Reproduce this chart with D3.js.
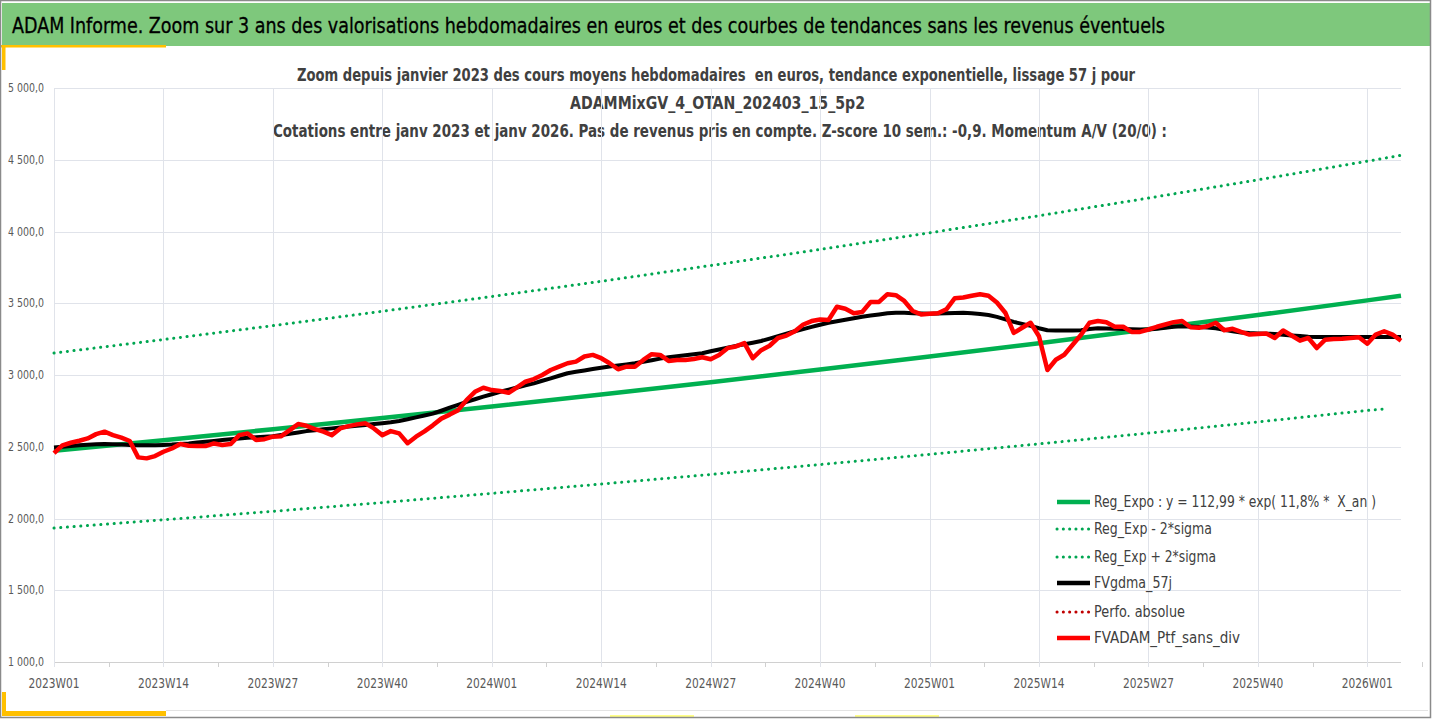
<!doctype html>
<html>
<head>
<meta charset="utf-8">
<style>
body{ margin:0; background:#ffffff; }
text{ white-space:pre; }
.ttl{ font-family:"Liberation Sans Narrow","DejaVu Sans Condensed","Open Sans",sans-serif; }
.sub{ font-family:"Liberation Sans Narrow","DejaVu Sans Condensed","Open Sans",sans-serif; font-weight:bold; fill:#404040; font-size:17px; }
.tick{ font-family:"Liberation Sans Narrow","DejaVu Sans Condensed","Open Sans",sans-serif; fill:#595959; }
.leg{ font-family:"Liberation Sans Narrow","DejaVu Sans Condensed","Open Sans",sans-serif; fill:#404040; font-size:15.5px; }
</style>
<script src="https://d3js.org/d3.v7.min.js"></script>
</head>
<body>
<svg width="1432" height="719"></svg>
<script>
// weekly categories 2023W01 .. 2026W05
var weeks = [];
[2023, 2024, 2025].forEach(function(y){
  for (var w = 1; w <= 52; w++) weeks.push(y + "W" + (w < 10 ? "0" + w : w));
});
for (var w = 1; w <= 5; w++) weeks.push("2026W0" + w);

var tickLabels = ["2023W01","2023W14","2023W27","2023W40","2024W01","2024W14","2024W27",
                  "2024W40","2025W01","2025W14","2025W27","2025W40","2026W01"];
var yTicks = [1000,1500,2000,2500,3000,3500,4000,4500,5000];

// trend lines, read at the gridlines
var trendWeeks = tickLabels.concat(["2026W05"]);
var regExpo  = [2472,2546,2622,2700,2781,2864,2950,3038,3129,3222,3319,3418,3520,3552];
var regPlus  = [3153,3247,3344,3444,3547,3653,3763,3875,3991,4110,4233,4360,4490,4531];
var lowWeeks = tickLabels.concat(["2026W03"]);
var regMinus = [1933,1991,2050,2111,2175,2240,2307,2376,2447,2520,2595,2673,2753,2763];

// FVgdma_57j (weekly)
var fvgdma = [2495,2500,2505,2510,2514,2517,2519,2518,2515,2512,
2510,2510,2511,2513,2515,2519,2523,2529,2535,2541,
2547,2553,2558,2562,2566,2570,2574,2582,2591,2600,
2609,2615,2622,2628,2635,2641,2647,2652,2658,2664,
2671,2680,2692,2705,2718,2731,2751,2772,2792,2813,
2831,2849,2866,2883,2898,2913,2928,2942,2960,2977,
2995,3012,3022,3032,3042,3051,3059,3067,3074,3082,
3092,3103,3114,3124,3131,3138,3145,3152,3165,3178,
3191,3203,3214,3225,3237,3254,3271,3288,3305,3320,
3335,3350,3364,3375,3385,3396,3406,3414,3422,3430,
3434,3433,3431,3429,3427,3428,3430,3432,3433,3430,
3425,3418,3405,3388,3370,3356,3342,3326,3312,3310,
3310,3310,3312,3320,3325,3324,3322,3320,3318,3317,
3317,3323,3330,3336,3340,3338,3335,3331,3325,3315,
3305,3296,3292,3290,3288,3286,3281,3276,3271,3267,
3265,3265,3265,3265,3265,3265,3265,3265,3265,3265,
3264];

// FVADAM_Ptf_sans_div (weekly)
var fvadam = [2455,2510,2528,2542,2558,2588,2605,2581,2563,2540,
2426,2419,2435,2465,2488,2519,2507,2505,2505,2523,
2512,2519,2581,2593,2547,2553,2570,2574,2616,2658,
2646,2623,2605,2581,2628,2644,2656,2663,2628,2581,
2609,2593,2525,2570,2607,2649,2696,2724,2755,2825,
2883,2911,2895,2888,2876,2914,2953,2972,3000,3035,
3058,3082,3093,3129,3140,3117,3082,3040,3058,3058,
3105,3145,3140,3098,3105,3105,3112,3124,3110,3140,
3187,3199,3222,3117,3173,3204,3258,3275,3305,3352,
3376,3387,3383,3476,3462,3430,3439,3509,3509,3563,
3556,3516,3446,3422,3427,3430,3458,3535,3540,3552,
3563,3552,3505,3434,3293,3329,3364,3270,3035,3106,
3141,3211,3280,3364,3376,3368,3336,3336,3300,3300,
3317,3336,3352,3368,3376,3333,3329,3340,3364,3312,
3322,3300,3282,3286,3289,3258,3310,3275,3239,3258,
3188,3246,3251,3253,3258,3263,3218,3282,3305,3282,
3239];

var svg = d3.select("svg");

var GREEN = "#00b050", DOTGREEN = "#00a651", RED = "#ff0000";

// frame & decorations
svg.append("rect").attr("x", 2).attr("y", 3).attr("width", 1428).attr("height", 43).attr("fill", "#7ec87c");
svg.append("rect").attr("x", 0).attr("y", 45).attr("width", 166).attr("height", 2.5).attr("fill", "#ffc000");
svg.append("rect").attr("x", 2).attr("y", 46).attr("width", 3.5).attr("height", 24).attr("fill", "#ffc000");
svg.append("rect").attr("x", 2).attr("y", 692).attr("width", 4).attr("height", 24).attr("fill", "#ffc000");
svg.append("rect").attr("x", 2).attr("y", 711).attr("width", 164).attr("height", 5).attr("fill", "#ffc000");
svg.append("rect").attr("x", 610).attr("y", 715).attr("width", 84).attr("height", 2).attr("fill", "#ffff88");
svg.append("rect").attr("x", 855).attr("y", 715).attr("width", 84).attr("height", 2).attr("fill", "#ffff88");
svg.append("line").attr("x1", 166).attr("x2", 1428).attr("y1", 710.5).attr("y2", 710.5).attr("stroke", "#e3e3e3");
svg.append("rect").attr("x", 0.5).attr("y", 0.5).attr("width", 1430).attr("height", 717)
  .attr("fill", "none").attr("stroke", "#8a8a8a").attr("stroke-width", 1.5);

function fitText(sel, w){
  sel.attr("textLength", w).attr("lengthAdjust", "spacingAndGlyphs");
}

fitText(svg.append("text").attr("class", "ttl").attr("x", 12).attr("y", 33)
  .attr("font-size", 21.5).attr("fill", "#000").attr("stroke", "#000").attr("stroke-width", 0.3)
  .text("ADAM Informe. Zoom sur 3 ans des valorisations hebdomadaires en euros et des courbes de tendances sans les revenus éventuels"), 1153);

var subs = [
  ["Zoom depuis janvier 2023 des cours moyens hebdomadaires  en euros, tendance exponentielle, lissage 57 j pour", 297, 81, 838],
  ["ADAMMixGV_4_OTAN_202403_15_5p2", 570, 109, 295],
  ["Cotations entre janv 2023 et janv 2026. Pas de revenus pris en compte. Z-score 10 sem.: -0,9. Momentum A/V (20/0) :", 273, 137, 894]
];
subs.forEach(function(s){
  fitText(svg.append("text").attr("class", "sub").attr("x", s[1]).attr("y", s[2]).text(s[0]), s[3]);
});

// scales
var x = d3.scalePoint().domain(weeks).range([54, 1401]);
var y = d3.scaleLinear().domain([1000, 5000]).range([662, 88]);

var grid = svg.append("g");
grid.selectAll(".hg").data(yTicks).enter().append("line")
  .attr("x1", 54).attr("x2", 1401)
  .attr("y1", function(d){ return Math.round(y(d)) + 0.5; })
  .attr("y2", function(d){ return Math.round(y(d)) + 0.5; })
  .attr("stroke", function(d){ return d === 1000 ? "#d0d0d0" : "#e0e3ea"; });
grid.selectAll(".vg").data(tickLabels).enter().append("line")
  .attr("x1", function(d){ return Math.round(x(d)) + 0.5; })
  .attr("x2", function(d){ return Math.round(x(d)) + 0.5; })
  .attr("y1", 88).attr("y2", 667)
  .attr("stroke", "#e0e3ea");
// minor ticks halfway between labels
var half = x.step() * 6.5;
grid.selectAll(".mt").data(tickLabels).enter().append("line")
  .attr("x1", function(d){ return Math.round(x(d) + half) + 0.5; })
  .attr("x2", function(d){ return Math.round(x(d) + half) + 0.5; })
  .attr("y1", 662).attr("y2", 667)
  .attr("stroke", "#d0d0d0");

svg.append("g").selectAll("text").data(yTicks).enter().append("text")
  .attr("class", "tick").attr("font-size", 11.5)
  .attr("x", 44).attr("y", function(d){ return y(d) + 4; })
  .attr("text-anchor", "end")
  .attr("textLength", 36).attr("lengthAdjust", "spacingAndGlyphs")
  .text(function(d){ return d3.format(",.1f")(d).replace(",", " ").replace(".", ","); });

svg.append("g").selectAll("text").data(tickLabels).enter().append("text")
  .attr("class", "tick").attr("font-size", 14)
  .attr("x", function(d){ return x(d); }).attr("y", 688)
  .attr("text-anchor", "middle")
  .attr("textLength", 51).attr("lengthAdjust", "spacingAndGlyphs")
  .text(function(d){ return d; });

// series
function drawLine(wk, vals, color, width, dash){
  var line = d3.line()
    .x(function(d, i){ return x(wk[i]); })
    .y(function(d){ return y(d); });
  var p = svg.append("path").datum(vals)
    .attr("d", line)
    .attr("fill", "none")
    .attr("stroke", color)
    .attr("stroke-width", width)
    .attr("stroke-linejoin", "round");
  if (dash) p.attr("stroke-dasharray", dash).attr("stroke-linecap", "round");
  return p;
}

drawLine(trendWeeks, regExpo, GREEN, 4.5);
drawLine(lowWeeks, regMinus, DOTGREEN, 3, "0.1 6.6");
drawLine(trendWeeks, regPlus, DOTGREEN, 3, "0.1 6.6");
drawLine(weeks, fvgdma, "#000000", 4);
drawLine(weeks, fvadam, RED, 4.5);

// legend
var legend = [
  {name:"Reg_Expo : y = 112,99 * exp( 11,8% *  X_an )", color:GREEN, w:4.5, dash:null, len:282},
  {name:"Reg_Exp - 2*sigma", color:DOTGREEN, w:3, dash:"0.1 6.2", len:118},
  {name:"Reg_Exp + 2*sigma", color:DOTGREEN, w:3, dash:"0.1 6.2", len:122},
  {name:"FVgdma_57j", color:"#000000", w:4.5, dash:null, len:78},
  {name:"Perfo. absolue", color:"#c00000", w:3, dash:"0.1 6.2", len:91},
  {name:"FVADAM_Ptf_sans_div", color:RED, w:4.5, dash:null, len:146}
];
var legRows = [502, 529, 557, 583, 612, 638];
var lg = svg.append("g");
legend.forEach(function(d, i){
  var ln = lg.append("line").attr("x1", 1057).attr("x2", 1090)
    .attr("y1", legRows[i]).attr("y2", legRows[i])
    .attr("stroke", d.color).attr("stroke-width", d.w);
  if (d.dash) ln.attr("stroke-dasharray", d.dash).attr("stroke-linecap", "round");
  fitText(lg.append("text").attr("class", "leg").attr("x", 1094).attr("y", legRows[i] + 5).text(d.name), d.len);
});
</script>
</body>
</html>
